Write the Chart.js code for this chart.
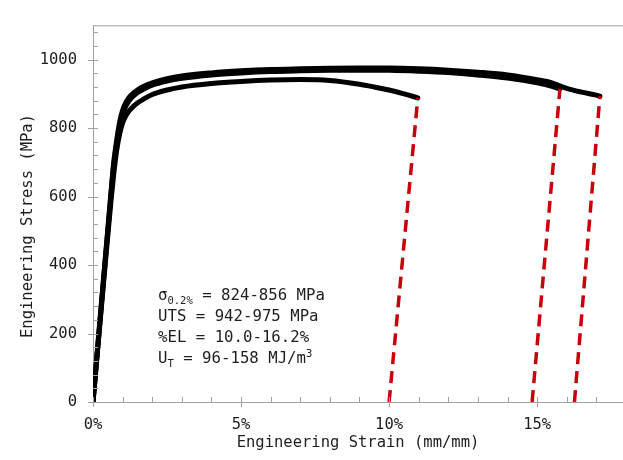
<!DOCTYPE html>
<html>
<head>
<meta charset="utf-8">
<script src="https://cdn.jsdelivr.net/npm/chart.js@4"></script>
<style>
  body { margin: 0; background: #fff; }
  canvas { display: block; }
</style>
</head>
<body>
<canvas id="myChart" width="623" height="460"></canvas>
<script>
// engineering strain (mm/mm) and stress (MPa) for the three samples
const strainA = [0, 0.002, 0.004, 0.006, 0.007, 0.008, 0.009, 0.010, 0.011, 0.012, 0.013, 0.015, 0.017, 0.020, 0.025, 0.030, 0.040, 0.050, 0.060, 0.070, 0.080, 0.090, 0.095, 0.100, 0.105, 0.1097];
const stressA = [0, 195, 390, 580, 665, 735, 783, 815, 834, 848, 858, 873, 884, 898, 911, 920, 930, 936, 940, 941.5, 939, 928, 920, 911, 900, 888];

const strainB = [0, 0.002, 0.004, 0.006, 0.007, 0.008, 0.009, 0.010, 0.011, 0.012, 0.013, 0.015, 0.017, 0.020, 0.025, 0.030, 0.040, 0.050, 0.060, 0.070, 0.080, 0.090, 0.100, 0.110, 0.120, 0.130, 0.140, 0.150, 0.155, 0.1577];
const stressB = [0, 200, 400, 598, 693, 752, 805, 840, 862, 877, 888, 903, 913, 925, 937, 945, 955, 961, 965, 967, 968.5, 969, 968.5, 966, 962, 955, 946, 932, 922, 914];

const strainC = [0, 0.002, 0.004, 0.006, 0.007, 0.008, 0.009, 0.010, 0.011, 0.012, 0.013, 0.015, 0.017, 0.020, 0.025, 0.030, 0.040, 0.050, 0.060, 0.070, 0.080, 0.090, 0.100, 0.110, 0.120, 0.130, 0.140, 0.150, 0.155, 0.160, 0.165, 0.170, 0.1712];
const stressC = [0, 205, 405, 605, 700, 765, 818, 852, 873, 887, 897, 911, 921, 932, 944, 952, 961, 967, 971, 973, 974.5, 975, 975, 973, 969, 963, 955, 941, 932, 916, 905, 896, 893];

// elastic unloading lines (dashed red): strain at 0 MPa and at fracture
const unloadA = { strain: [0.1000, 0.1097], stress: [0, 888] };
const unloadB = { strain: [0.1483, 0.1577], stress: [0, 914] };
const unloadC = { strain: [0.1626, 0.1712], stress: [0, 893] };

// axes
const xMax = 0.179;
const yMax = 1100;
const xTickValues = [0, 0.05, 0.10, 0.15];
const xMinorValues = [0.01, 0.02, 0.03, 0.04, 0.06, 0.07, 0.08, 0.09, 0.11, 0.12, 0.13, 0.14, 0.16, 0.17];
const yTickValues = [0, 200, 400, 600, 800, 1000];
const yMinorValues = [40, 80, 120, 160, 240, 280, 320, 360, 440, 480, 520, 560, 640, 680, 720, 760, 840, 880, 920, 960, 1040, 1080];

const xTitle = "Engineering Strain (mm/mm)";
const yTitle = "Engineering Stress (MPa)";

const FONT = "'DejaVu Sans Mono', 'Liberation Mono', monospace";
const AXIS_COLOR = "#a0a0a0";
const TEXT_COLOR = "#1e1e1e";
const RED = "#c8000a";

function pts(xs, ys) {
    return xs.map((x, i) => ({ x: x, y: ys[i] }));
}

function curve(xs, ys) {
    return {
        data: pts(xs, ys),
        borderColor: "#000",
        borderWidth: 5,
        pointRadius: 0,
        cubicInterpolationMode: "monotone",
        borderCapStyle: "round",
        borderJoinStyle: "round",
        order: 2,
    };
}

function unload(u) {
    return {
        data: pts(u.strain, u.stress),
        borderColor: RED,
        borderWidth: 3.5,
        borderDash: [12, 7],
        pointRadius: 0,
        order: 1,
    };
}

// minor/major tick marks, top frame line, axis titles and the property box
const decor = {
    id: "decor",
    afterDraw(chart) {
        const c = chart.ctx;
        const a = chart.chartArea;
        const xs = chart.scales.x;
        const ys = chart.scales.y;
        c.save();
        c.strokeStyle = AXIS_COLOR;
        c.lineWidth = 1;
        c.beginPath();
        c.moveTo(a.left, a.top + 0.5);
        c.lineTo(a.right, a.top + 0.5);
        xMinorValues.forEach((v) => {
            const px = Math.round(xs.getPixelForValue(v)) + 0.5;
            c.moveTo(px, a.bottom);
            c.lineTo(px, a.bottom - 5);
        });
        xTickValues.forEach((v) => {
            const px = Math.round(xs.getPixelForValue(v)) + 0.5;
            c.moveTo(px, a.bottom + 5);
            c.lineTo(px, a.bottom - 5);
        });
        yMinorValues.forEach((v) => {
            const py = Math.round(ys.getPixelForValue(v)) + 0.5;
            c.moveTo(a.left, py);
            c.lineTo(a.left + 5, py);
        });
        yTickValues.forEach((v) => {
            const py = Math.round(ys.getPixelForValue(v)) + 0.5;
            c.moveTo(a.left - 5, py);
            c.lineTo(a.left + 5, py);
        });
        c.stroke();

        // axis titles
        c.fillStyle = TEXT_COLOR;
        c.font = "15.5px " + FONT;
        c.textAlign = "center";
        c.textBaseline = "alphabetic";
        c.fillText(xTitle, (a.left + a.right) / 2, 447);
        c.save();
        c.translate(32, 226);
        c.rotate(-Math.PI / 2);
        c.fillText(yTitle, 0, 0);
        c.restore();

        // property box
        const lines = [
            [["σ", 0], ["0.2%", 1], [" = 824-856 MPa", 0]],
            [["UTS = 942-975 MPa", 0]],
            [["%EL = 10.0-16.2%", 0]],
            [["U", 0], ["T", 1], [" = 96-158 MJ/m", 0], ["3", -1]],
        ];
        const x0 = a.left + 65;
        const y0 = a.bottom - 102;
        c.textAlign = "left";
        lines.forEach((parts, i) => {
            let x = x0;
            const y = y0 + i * 21;
            parts.forEach(([t, mode]) => {
                const size = mode === 0 ? 15.7 : 10.5;
                const dy = mode === 1 ? 4 : mode === -1 ? -6 : 0;
                c.font = size + "px " + FONT;
                c.fillText(t, x, y + dy);
                x += c.measureText(t).width;
            });
        });
        c.restore();
    },
};

let ctx = document.getElementById("myChart").getContext("2d");
let myChart = new Chart(ctx, {
    type: "line",
    data: {
        datasets: [
            unload(unloadA),
            unload(unloadB),
            unload(unloadC),
            curve(strainA, stressA),
            curve(strainB, stressB),
            curve(strainC, stressC),
        ],
    },
    options: {
        responsive: false,
        animation: false,
        layout: { padding: { top: 10, right: 0, bottom: 0, left: 0 } },
        plugins: {
            legend: { display: false },
            tooltip: { enabled: false },
        },
        scales: {
            x: {
                type: "linear",
                min: 0,
                max: xMax,
                grid: { display: false, drawTicks: false },
                border: { display: true, color: AXIS_COLOR, width: 1 },
                afterBuildTicks: (s) => { s.ticks = xTickValues.map((v) => ({ value: v })); },
                afterFit: (s) => { s.height = 58; },
                ticks: {
                    autoSkip: false,
                    maxRotation: 0,
                    padding: 14,
                    color: TEXT_COLOR,
                    font: { family: FONT, size: 15.5 },
                    callback: (v) => Math.round(v * 100) + "%",
                },
            },
            y: {
                min: 0,
                max: yMax,
                grid: { display: false, drawTicks: false },
                border: { display: true, color: AXIS_COLOR, width: 1 },
                afterBuildTicks: (s) => { s.ticks = yTickValues.map((v) => ({ value: v })); },
                afterFit: (s) => { s.width = 93; },
                ticks: {
                    padding: 16,
                    color: TEXT_COLOR,
                    font: { family: FONT, size: 15.5 },
                    callback: (v) => String(v),
                },
            },
        },
    },
    plugins: [decor],
});
</script>
</body>
</html>
